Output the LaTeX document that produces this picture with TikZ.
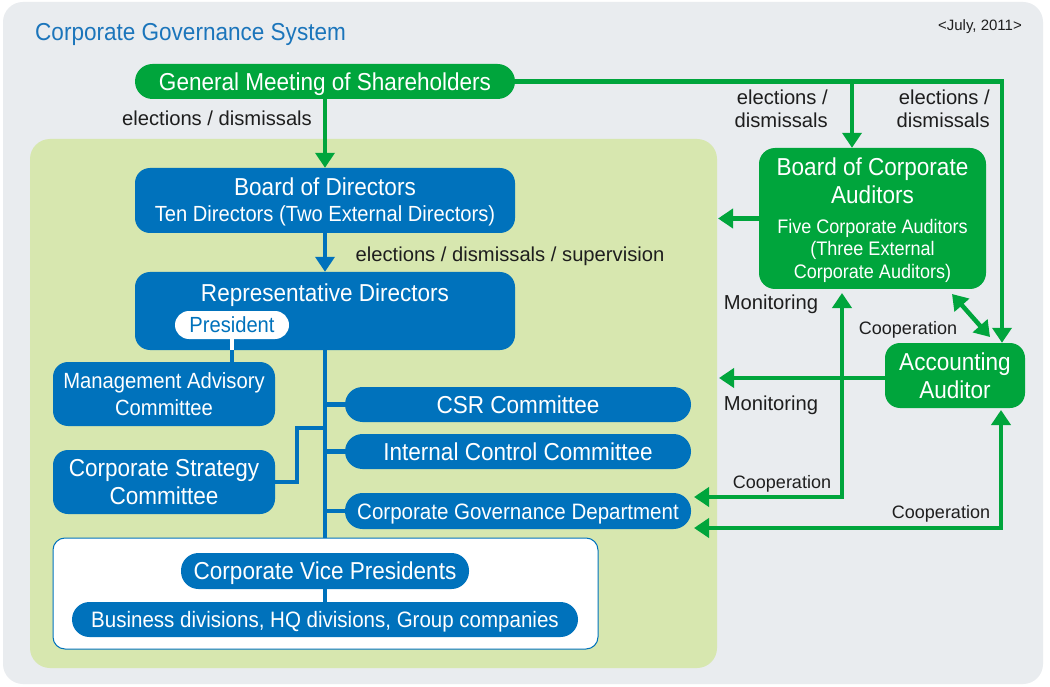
\documentclass[tikz,border=0pt]{standalone}
\usepackage{fontspec}
\setmainfont{Liberation Sans}
\newfontfamily\cf[FakeStretch=0.92]{Liberation Sans}
\usetikzlibrary{arrows.meta}
\definecolor{bggray}{RGB}{233,236,239}
\definecolor{panelg}{RGB}{215,231,175}
\definecolor{gblue}{RGB}{0,114,188}
\definecolor{ggreen}{RGB}{0,165,60}
\definecolor{tblue}{RGB}{27,117,187}
\definecolor{lbltext}{RGB}{30,30,30}
\newcommand\fntA{\cf\fontsize{24.5}{28}\selectfont}
\newcommand\fntB{\cf\fontsize{21.9}{26}\selectfont}
\newcommand\fntC{\cf\fontsize{22.3}{26}\selectfont}
\newcommand\fntM{\cf\fontsize{22}{27}\selectfont}
\newcommand\fntF{\cf\fontsize{19.6}{22.5}\selectfont}
\newcommand\fntL{\fontsize{20.2}{23}\selectfont}
\newcommand\fntS{\fontsize{18}{21}\selectfont}
\newcommand\fntT{\fontsize{15}{18}\selectfont}
\begin{document}
\begin{tikzpicture}[x=1pt,y=-1pt,
  tA/.style={font=\fntA, text height=17.5pt, text depth=0pt},
  tB/.style={font=\fntB, text height=15.7pt, text depth=0pt},
  tC/.style={font=\fntC, text height=16pt, text depth=0pt},
  tL/.style={font=\fntL, text height=14.5pt, text depth=0pt},
  tS/.style={font=\fntS, text height=12.9pt, text depth=0pt},
  tT/.style={font=\fntT, text height=10.7pt, text depth=0pt},
  bbox/.style={fill=gblue, text=white, rounded corners=15pt, inner sep=0pt, align=center},
  bpill/.style={fill=gblue, text=white, rounded corners=17.5pt, inner sep=0pt, align=center},
  gbox/.style={fill=ggreen, text=white, rounded corners=16pt, inner sep=0pt, align=center},
  wt/.style={text=white, inner sep=0pt, align=center},
  bline/.style={gblue, line width=4.5pt},
  gline/.style={ggreen, line width=4.5pt},
  arr/.style={-{Triangle[length=15pt,width=19pt]}},
  arrb/.style={{Triangle[length=15pt,width=19pt]}-{Triangle[length=15pt,width=19pt]}},
  lbl/.style={tL, text=lbltext, inner sep=0pt, align=center},
  lbls/.style={tS, text=lbltext, inner sep=0pt, align=center}]
\useasboundingbox (0,0) rectangle (1050,687);
\fill[white] (0,0) rectangle (1050,687);
\fill[bggray, rounded corners=20pt] (3,2) rectangle (1043,684);
\fill[panelg, rounded corners=20pt] (30,139) rectangle (717,668);

\node[anchor=west, text=tblue, tA, inner sep=0pt] (title) at (35,32) {Corporate Governance System};
\node[anchor=east, tT, text=lbltext, inner sep=0pt] (date) at (1022,25) {<July, 2011>};

% green nodes
\node[gbox, rounded corners=17.5pt, minimum width=380, minimum height=35, tA] (gm) at (325,81.5) {General Meeting of Shareholders};
\node[gbox, minimum width=227, minimum height=141] (bca) at (872.5,218.5) {};
\node[wt, font=\fntA] (bcaA) at (872.5,181) {Board of Corporate\\Auditors};
\node[wt, font=\fntF] (bcaB) at (872.5,250.5) {Five Corporate Auditors\\(Three External\\Corporate Auditors)};
\node[gbox, rounded corners=15pt, minimum width=140, minimum height=65, font=\fntA] (aa) at (955,375.5) {Accounting\\Auditor};

% blue nodes
\node[bbox, minimum width=380, minimum height=65] (bod) at (325,200.5) {};
\node[wt, tA] (bodA) at (325,187) {Board of Directors};
\node[wt, tB] (bodB) at (325,214) {Ten Directors (Two External Directors)};
\node[bbox, minimum width=380, minimum height=78] (rd) at (325,311) {};
\node[wt, tA] (rdA) at (325,293) {Representative Directors};
\node[fill=white, text=gblue, rounded corners=14pt, minimum width=114, minimum height=28, inner sep=0pt, tB] (pres) at (232,325) {President};
\node[bbox, minimum width=222, minimum height=64, font=\fntM] (mac) at (164,394) {Management Advisory\\Committee};
\node[bbox, minimum width=222, minimum height=64, font=\fntA] (csc) at (164,482) {Corporate Strategy\\Committee};
\node[bpill, minimum width=346, minimum height=35, tA] (csr) at (518,404.5) {CSR Committee};
\node[bpill, minimum width=346, minimum height=35, tA] (icc) at (518,451.5) {Internal Control Committee};
\node[bpill, minimum width=346, minimum height=36, tC] (cgd) at (518,511) {Corporate Governance Department};
\node[draw=gblue, line width=1pt, fill=white, rounded corners=12pt, minimum width=545, minimum height=111, inner sep=0pt] (wb) at (325.5,593.5) {};
\node[bpill, minimum width=288, minimum height=36, tA] (cvp) at (325,571) {Corporate Vice Presidents};
\node[bpill, minimum width=506, minimum height=35, tC] (bd) at (325,619.5) {Business divisions, HQ divisions, Group companies};

% blue connectors
\draw[white, line width=4.5pt] (pres.south) -- (pres.south |- rd.south);
\draw[bline] (pres.south |- rd.south) -- (pres.south |- mac.north);
\draw[bline] (rd.south) -- (rd.south |- wb.north);
\draw[bline] (rd.south |- csr.west) -- (csr.west);
\draw[bline] (rd.south |- icc.west) -- (icc.west);
\draw[bline] (rd.south |- cgd.west) -- (cgd.west);
\coordinate (cscj) at (297,428);
\draw[bline] (csc.east) -| (cscj) -- (cscj -| rd.south);
\draw[bline] (cvp.south) -- (bd.north);
\draw[bline, arr] (bod.south) -- (rd.north);

% green connectors
\draw[gline, arr] (gm.south) -- (bod.north);
\coordinate (gmc) at (1002,81.5);
\coordinate (gmb) at (852,81.5);
\draw[gline, arr] (gm.east) -- (gmc) -- (gmc |- aa.north);
\draw[gline, arr] (gmb) -- (gmb |- bca.north);
\coordinate (bcal) at (718,218.5);
\draw[gline, arr] (bca.west) -- (bcal);
\coordinate (dblA) at (952,294);
\coordinate (dblB) at (990,337);
\draw[gline, arrb] (dblA) -- (dblB);
\coordinate (monl) at (719,378);
\draw[gline, arr] ([yshift=-2.5pt]aa.west) -- (monl);
\coordinate (c1) at (842,497);
\coordinate (c1e) at (694,497);
\coordinate (c1t) at (842,293);
\draw[gline, arrb] (c1t) -- (c1) -- (c1e);
\coordinate (c2) at (1001,528);
\coordinate (c2e) at (694,528);
\coordinate (c2t) at (1001,410);
\draw[gline, arrb] (c2t) -- (c2) -- (c2e);

% labels
\node[lbl] (l1) at (217,118) {elections / dismissals};
\node[lbl, font=\fntL, text height=, text depth=, align=right, anchor=east] (l2) at (828,108.5) {elections /\\dismissals};
\node[lbl, font=\fntL, text height=, text depth=, align=right, anchor=east] (l3) at (990,108.5) {elections /\\dismissals};
\node[lbl] (l4) at (510,254) {elections / dismissals / supervision};
\node[lbl] (m1) at (771,302) {Monitoring};
\node[lbl] (m2) at (771,403) {Monitoring};
\node[lbls] (k1) at (908,328) {Cooperation};
\node[lbls] (k2) at (782,482) {Cooperation};
\node[lbls] (k3) at (941,512) {Cooperation};
\end{tikzpicture}
\end{document}
